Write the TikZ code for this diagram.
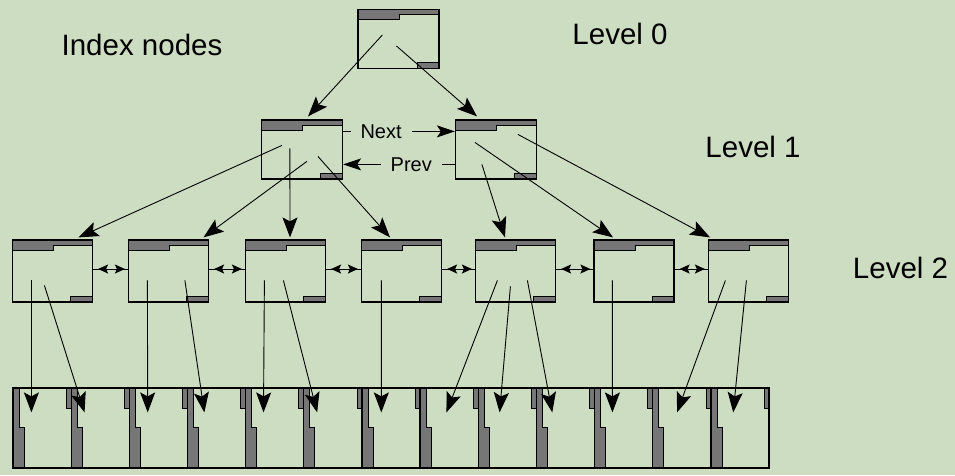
\documentclass[tikz,border=0pt]{standalone}
\usepackage{fontspec}
\setmainfont{Liberation Sans}
\usetikzlibrary{positioning, arrows.meta}
\definecolor{bgc}{RGB}{205,221,193}
\definecolor{dots}{RGB}{118,118,118}

\begin{document}
\begin{tikzpicture}[x=1pt, y=-1pt, node distance=58.15pt, on grid,
    idx/.style={draw, line width=1.2pt, minimum width=81pt, minimum height=59pt, inner sep=0pt,
        path picture={
            \coordinate (nw) at (path picture bounding box.north west);
            \coordinate (ne) at (path picture bounding box.north east);
            \coordinate (se) at (path picture bounding box.south east);
            \filldraw[fill=dots, line width=0.6pt] (nw) -- (ne) -- ([shift={(0,5)}]ne)
                -- ([shift={(41,5)}]nw) -- ([shift={(41,10)}]nw) -- ([shift={(0,10)}]nw) -- cycle;
            \filldraw[fill=dots, line width=0.6pt] ([shift={(-22,-6)}]se) rectangle (se);}},
    leaf/.style={draw, line width=1.2pt, minimum width=58.15pt, minimum height=80pt, inner sep=0pt,
        path picture={
            \coordinate (nw) at (path picture bounding box.north west);
            \coordinate (ne) at (path picture bounding box.north east);
            \coordinate (sw) at (path picture bounding box.south west);
            \filldraw[fill=dots, line width=0.6pt] (nw) -- ([shift={(6,0)}]nw) -- ([shift={(6,39)}]nw)
                -- ([shift={(11,39)}]nw) -- ([shift={(11,0)}]sw) -- (sw) -- cycle;
            \filldraw[fill=dots, line width=0.6pt] ([shift={(-5,0)}]ne) rectangle ([shift={(0,20)}]ne);}},
    ptr/.style={line width=0.9pt, -{Stealth[length=20pt, width=15pt, inset=4pt]}},
    nav/.style={line width=0.9pt, -{Stealth[length=18pt, width=12pt, inset=4pt]}},
    dbl/.style={line width=1pt, shorten <=5pt, shorten >=3pt,
        {Stealth[length=10pt, width=9pt, inset=2pt]}-{Stealth[length=10pt, width=9pt, inset=2pt]}},
    lab/.style={fill=bgc, inner xsep=10pt, inner ysep=1pt, font=\fontsize{20}{24}\selectfont},
    txt/.style={font=\fontsize{29.5}{35}\selectfont, inner sep=0pt}]

    \fill[bgc] (0,0) rectangle (955,475);

    % index levels
    \node[idx] (root) at (398.5,39) {};
    \node[idx] (A) at (302,149.5) {};
    \node[idx] (B) at (496,149.5) {};
    \foreach \n/\x in {n1/52.5, n2/168.5, n3/285.5, n4/401.5, n5/515.5, n6/634, n7/748.5}
        \node[idx, minimum width=80pt, minimum height=62pt] (\n) at (\x,271) {};

    % leaf pages
    \node[leaf] (l1) at (42.075,428) {};
    \foreach \i [remember=\i as \j (initially 1)] in {2,...,13}
        \node[leaf, right=of l\j] (l\i) {};

    \node[txt] (idxlab) at (142,45) {Index nodes};
    \node[txt] (lv0) at (620,34) {Level 0};
    \node[txt] (lv1) at (753,147) {Level 1};
    \node[txt] (lv2) at (900.5,268) {Level 2};

    \draw[ptr] ([shift={(25,26)}]root.north west) -- ([shift={(6,-3)}]A.north);
    \draw[ptr] ([shift={(39,37)}]root.north west) -- ([shift={(-19,-3)}]B.north);

    \draw[nav] ([yshift=-12pt]A.north east) -- node[lab, pos=0.34] (nx) {Next} ([yshift=-12pt]B.north west);
    \draw[nav] ([yshift=-45pt]B.north west) -- node[lab, pos=0.39] (pv) {Prev} ([yshift=-45pt]A.north east);

    \foreach \s/\dx/\dy/\t/\ex in {A/21/26/n1/26, A/46/42/n2/35, A/29/29/n3/4.5, A/57/37/n4/-11.5,
            B/27/45/n5/-10.5, B/20/23/n6/-21, B/63/15/n7/-38.5}
        \draw[ptr] ([shift={(\dx,\dy)}]\s.north west) -- ([shift={(\ex,-2)}]\t.north);

    \foreach \a/\b in {n1/n2, n2/n3, n3/n4, n4/n5, n5/n6, n6/n7} {
        \draw[line width=1pt] ([yshift=2pt]\a.east) -- ([yshift=2pt]\b.west);
        \draw[dbl] ([yshift=2pt]\a.east) -- ([yshift=2pt]\b.west);
    }

    \foreach \s/\dx/\dy/\t/\ex in {n1/19.5/41/l1/19, n1/32.5/46/l2/14, n2/19.5/41/l3/19, n2/57/41/l4/17.5,
            n3/19.5/41/l5/18.5, n3/38.5/41/l6/14, n4/20.5/41/l7/20, n5/22.5/41/l8/27, n5/35.5/47/l9/22,
            n5/52.5/41/l10/16.5, n6/19/41/l11/18.5, n7/17.5/41/l12/25, n7/38.5/41/l13/23}
        \draw[ptr] ([shift={(\dx,\dy)}]\s.north west) -- ([shift={(\ex,25)}]\t.north west);
\end{tikzpicture}
\end{document}
